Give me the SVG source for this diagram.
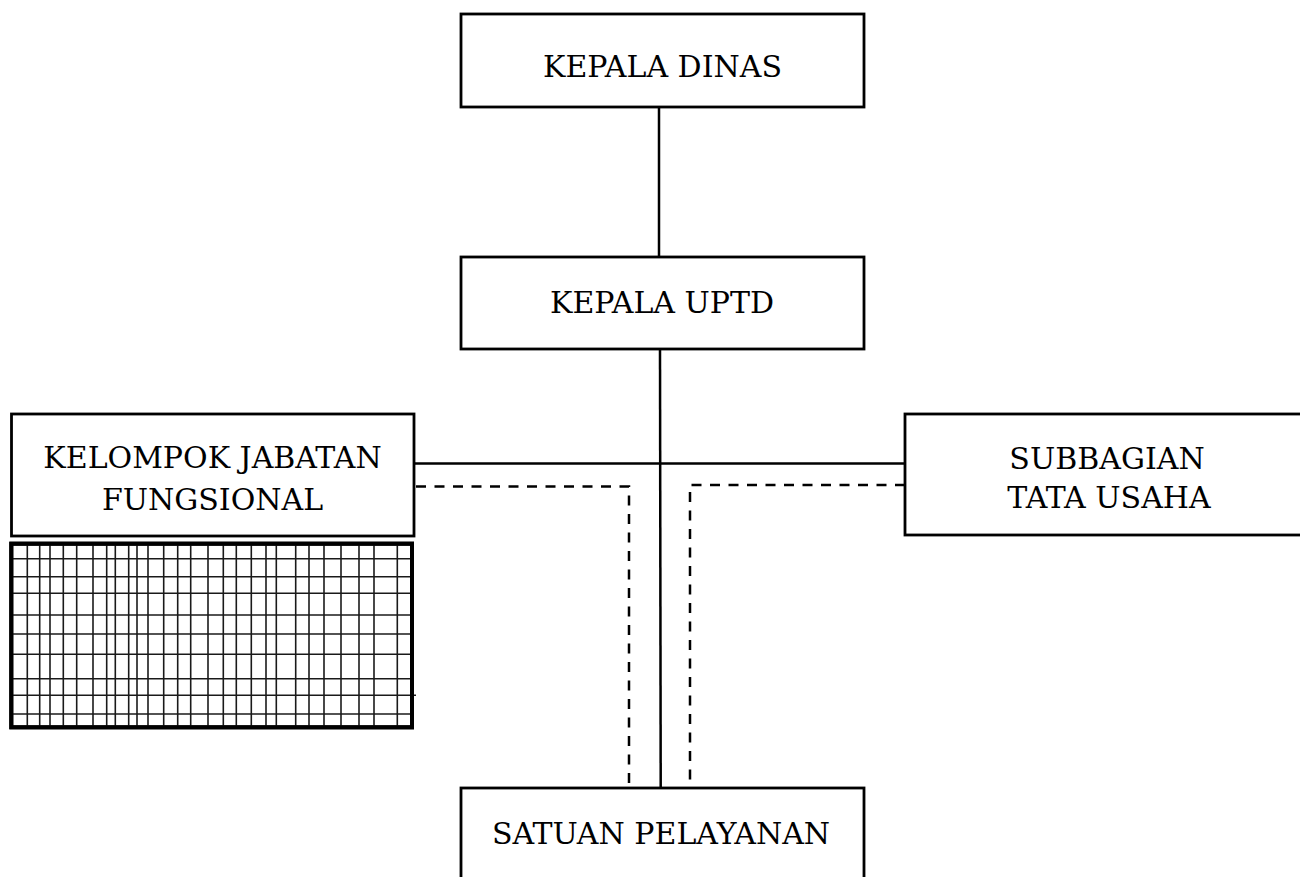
<svg xmlns="http://www.w3.org/2000/svg" width="1300" height="877" viewBox="0 0 1300 877">
<style>
.box{fill:#fff;stroke:#000;stroke-width:2.8}
.lbl{font-family:"DejaVu Serif","Liberation Serif",serif;font-size:30px;fill:#000;text-anchor:middle}
.solid{fill:none;stroke:#000;stroke-width:2.5}
.dash{fill:none;stroke:#000;stroke-width:2.5;stroke-dasharray:10 8.5}
.grid{stroke:#1a1a1a;stroke-width:1.6}
.gridbox{fill:#fff;stroke:#000;stroke-width:4}
</style>
<rect width="1300" height="877" fill="#fff"/>
<g id="connectors">
<line class="solid" x1="659" y1="107" x2="659" y2="257"/>
<line class="solid" x1="660" y1="349" x2="660.7" y2="788"/>
<line class="solid" x1="414" y1="463.5" x2="905" y2="463.5"/>
<polyline class="dash" points="416,486.5 629,486.5 629,788"/>
<polyline class="dash" points="905,485 690,485 690,788"/>
</g>
<g id="kepala-dinas">
<rect class="box" x="461" y="14" width="403" height="93"/>
<text class="lbl" x="662.5" y="77">KEPALA DINAS</text>
</g>
<g id="kepala-uptd">
<rect class="box" x="461" y="257" width="403" height="92"/>
<text class="lbl" x="662" y="313">KEPALA UPTD</text>
</g>
<g id="kelompok-jabatan-fungsional">
<rect class="box" x="11.5" y="414" width="402.5" height="122"/>
<text class="lbl" x="212.5" y="468">KELOMPOK JABATAN</text>
<text class="lbl" x="212.5" y="510">FUNGSIONAL</text>
</g>
<g id="subbagian-tata-usaha">
<rect class="box" x="905" y="414" width="410" height="121"/>
<text class="lbl" x="1107" y="469">SUBBAGIAN</text>
<text class="lbl" x="1109" y="508">TATA USAHA</text>
</g>
<g id="grid-panel">
<rect class="gridbox" x="11.3" y="543.7" width="400.7" height="183.6"/>
<g class="grid">
<line x1="27.3" y1="543.7" x2="27.3" y2="727.3"/>
<line x1="39.7" y1="543.7" x2="39.7" y2="727.3"/>
<line x1="50" y1="543.7" x2="50" y2="727.3"/>
<line x1="63.3" y1="543.7" x2="63.3" y2="727.3"/>
<line x1="76.7" y1="543.7" x2="76.7" y2="727.3"/>
<line x1="93" y1="543.7" x2="93" y2="727.3"/>
<line x1="106.7" y1="543.7" x2="106.7" y2="727.3"/>
<line x1="115.3" y1="543.7" x2="115.3" y2="727.3"/>
<line x1="128.7" y1="543.7" x2="128.7" y2="727.3"/>
<line x1="137" y1="543.7" x2="137" y2="727.3"/>
<line x1="148" y1="543.7" x2="148" y2="727.3"/>
<line x1="163.7" y1="543.7" x2="163.7" y2="727.3"/>
<line x1="177.7" y1="543.7" x2="177.7" y2="727.3"/>
<line x1="190.7" y1="543.7" x2="190.7" y2="727.3"/>
<line x1="208" y1="543.7" x2="208" y2="727.3"/>
<line x1="223.3" y1="543.7" x2="223.3" y2="727.3"/>
<line x1="236.3" y1="543.7" x2="236.3" y2="727.3"/>
<line x1="251.3" y1="543.7" x2="251.3" y2="727.3"/>
<line x1="266" y1="543.7" x2="266" y2="727.3"/>
<line x1="276.3" y1="543.7" x2="276.3" y2="727.3"/>
<line x1="295.7" y1="543.7" x2="295.7" y2="727.3"/>
<line x1="309" y1="543.7" x2="309" y2="727.3"/>
<line x1="324" y1="543.7" x2="324" y2="727.3"/>
<line x1="341" y1="543.7" x2="341" y2="727.3"/>
<line x1="359" y1="543.7" x2="359" y2="727.3"/>
<line x1="374" y1="543.7" x2="374" y2="727.3"/>
<line x1="397.3" y1="543.7" x2="397.3" y2="727.3"/>
<line x1="11.3" y1="558.7" x2="412" y2="558.7"/>
<line x1="11.3" y1="576.7" x2="412" y2="576.7"/>
<line x1="11.3" y1="593.3" x2="412" y2="593.3"/>
<line x1="11.3" y1="615" x2="412" y2="615"/>
<line x1="11.3" y1="634" x2="412" y2="634"/>
<line x1="11.3" y1="654.3" x2="412" y2="654.3"/>
<line x1="11.3" y1="678.7" x2="412" y2="678.7"/>
<line x1="11.3" y1="695.3" x2="416" y2="695.3"/>
<line x1="11.3" y1="714" x2="412" y2="714"/>
</g>
<rect x="11.3" y="543.7" width="400.7" height="183.6" fill="none" stroke="#000" stroke-width="4"/>
</g>
<g id="satuan-pelayanan">
<rect class="box" x="461" y="788" width="403" height="100"/>
<text class="lbl" x="661" y="844">SATUAN PELAYANAN</text>
</g>
</svg>
